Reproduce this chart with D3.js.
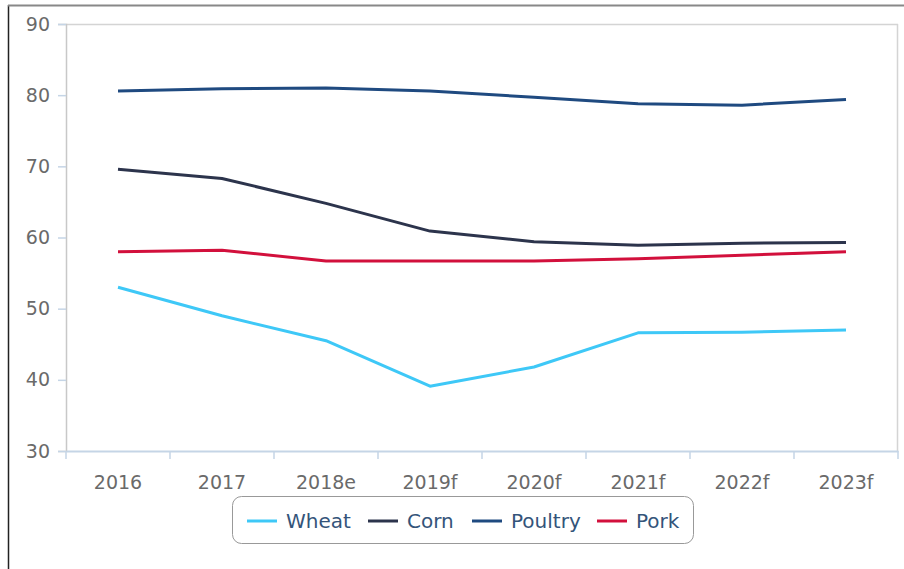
<!DOCTYPE html>
<html><head><meta charset="utf-8">
<script src="https://cdn.jsdelivr.net/npm/d3@7/dist/d3.min.js"></script>
<style>body{margin:0;background:#fff}svg{display:block}text{font-family:"DejaVu Sans",sans-serif}</style>
</head><body>
<script>
const categories = ["2016","2017","2018e","2019f","2020f","2021f","2022f","2023f"];
const wheat   = [53.0, 49.0, 45.5, 39.1, 41.8, 46.6, 46.7, 47.0];
const corn    = [69.6, 68.3, 64.8, 60.9, 59.4, 58.9, 59.2, 59.3];
const poultry = [80.6, 80.9, 81.0, 80.6, 79.7, 78.8, 78.6, 79.4];
const pork    = [58.0, 58.2, 56.7, 56.7, 56.7, 57.0, 57.5, 58.0];
const yTicks  = [30, 40, 50, 60, 70, 80, 90];
const seriesNames = ["Wheat","Corn","Poultry","Pork"];
const seriesColors = ["#3ec8f7","#2c344c","#1f4a80","#d2103c"];
const seriesData = [wheat, corn, poultry, pork];

const W = 904, H = 569;
const svg = d3.select("body").append("svg").attr("width", W).attr("height", H);
svg.append("line").attr("x1",8.5).attr("x2",8.5).attr("y1",5).attr("y2",H).attr("stroke","#222").attr("stroke-width",1.5);
svg.append("line").attr("x1",8).attr("x2",W).attr("y1",5.5).attr("y2",5.5).attr("stroke","#888").attr("stroke-width",2);

const L = 66, R = 898, T = 24, B = 451;
const x = d3.scaleBand().domain(categories).range([L, R]);
const y = d3.scaleLinear().domain([30, 90]).range([B, T]);

// frame top & right
svg.append("line").attr("x1",L).attr("x2",R).attr("y1",T+0.5).attr("y2",T+0.5).attr("stroke","#d4d4d4").attr("stroke-width",1.5);
svg.append("line").attr("x1",R-0.5).attr("x2",R-0.5).attr("y1",T).attr("y2",B).attr("stroke","#d4d4d4").attr("stroke-width",1.5);

// y axis
const yAxis = svg.append("g").attr("transform",`translate(${L},0)`)
  .call(d3.axisLeft(y).tickValues(yTicks).tickSize(8).tickPadding(8));
yAxis.select(".domain").attr("stroke","#c8c8c8").attr("stroke-width",1.5);
yAxis.selectAll(".tick line").attr("stroke","#c5d5e6").attr("stroke-width",1.5);
yAxis.selectAll(".tick text").attr("fill","#6a6a6a").style("font-size","19px");

// x axis
const xAxis = svg.append("g").attr("transform",`translate(0,${B})`)
  .call(d3.axisBottom(x).tickSize(0).tickPadding(25));
xAxis.select(".domain").attr("stroke","#c5d5e6").attr("stroke-width",2);
xAxis.selectAll(".tick text").attr("fill","#6a6a6a").style("font-size","19px");
const edges = categories.map(c => x(c)).concat([R]);
svg.append("g").selectAll("line").data(edges).join("line")
  .attr("x1", d => d).attr("x2", d => d).attr("y1", B).attr("y2", B + 8)
  .attr("stroke","#c5d5e6").attr("stroke-width",1.5);

const line = d3.line().x((d,i) => x(categories[i]) + x.bandwidth()/2).y(d => y(d));
svg.append("g").selectAll("path").data(seriesData).join("path")
  .attr("d", d => line(d)).attr("fill","none")
  .attr("stroke", (d,i) => seriesColors[i]).attr("stroke-width",3)
  .attr("stroke-linejoin","round").attr("stroke-linecap","butt");

// legend
const lg = svg.append("g");
lg.append("rect").attr("x",232.5).attr("y",496.5).attr("width",461).attr("height",47).attr("rx",9)
  .attr("fill","#fff").attr("stroke","#999").attr("stroke-width",1);
const lx = [247, 368, 472, 597];
seriesNames.forEach((n,i) => {
  lg.append("line").attr("x1",lx[i]).attr("x2",lx[i]+30).attr("y1",521).attr("y2",521)
    .attr("stroke",seriesColors[i]).attr("stroke-width",3);
  lg.append("text").attr("x",lx[i]+39).attr("y",528).text(n)
    .attr("fill","#34547a").style("font-size","20px");
});
</script>
</body></html>
